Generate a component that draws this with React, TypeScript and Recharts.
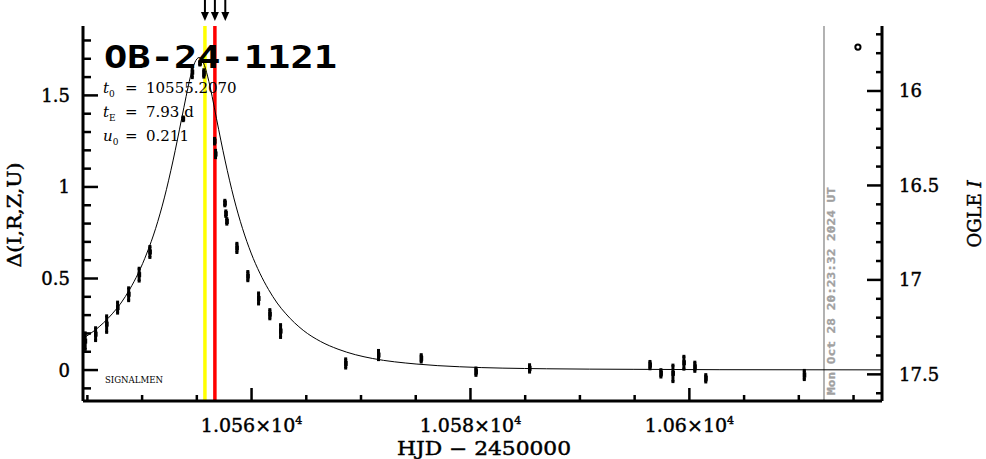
import React from "react";
import { ComposedChart, Line, Scatter, XAxis, YAxis, ReferenceLine, ErrorBar } from "recharts";

// Observations (HJD - 2450000, Δmag, error)
const obsT = [10544.8, 10545.75, 10546.76, 10547.76, 10548.77, 10549.73, 10550.71, 10553.75, 10554.58, 10555.28, 10555.64, 10556.62, 10556.71, 10557.56, 10557.65, 10557.74, 10558.66, 10559.66, 10560.64, 10561.67, 10562.65, 10568.6, 10571.6, 10575.5, 10580.5, 10585.4, 10596.4, 10597.4, 10598.5, 10599.5, 10600.5, 10601.5, 10610.5];
const obsD = [0.158, 0.196, 0.251, 0.341, 0.414, 0.521, 0.645, 1.372, 1.627, 1.676, 1.62, 1.25, 1.18, 0.912, 0.854, 0.812, 0.667, 0.513, 0.391, 0.305, 0.213, 0.036, 0.082, 0.064, -0.009, 0.009, 0.027, -0.018, -0.018, 0.04, 0.018, -0.045, -0.027];
const obsE = [0.045, 0.035, 0.045, 0.03, 0.035, 0.035, 0.03, 0.01, 0.03, 0.01, 0.02, 0.015, 0.02, 0.015, 0.015, 0.015, 0.025, 0.025, 0.03, 0.025, 0.035, 0.025, 0.025, 0.02, 0.02, 0.02, 0.02, 0.02, 0.045, 0.035, 0.025, 0.02, 0.025];

// Model curve
const modelT = [10544.6, 10545.68, 10547.27, 10548.07, 10548.86, 10549.65, 10550.44, 10551.24, 10552.03, 10552.82, 10553.62, 10554.02, 10554.41, 10554.81, 10555.21, 10555.6, 10556.0, 10556.4, 10556.79, 10557.59, 10558.38, 10559.17, 10559.96, 10560.76, 10561.55, 10562.34, 10563.14, 10564.72, 10566.31, 10567.9, 10569.48, 10571.07, 10575.03, 10579.0, 10586.93, 10594.86, 10602.79, 10617.6];
const modelD = [0.173, 0.217, 0.307, 0.366, 0.44, 0.529, 0.639, 0.774, 0.94, 1.142, 1.375, 1.494, 1.601, 1.679, 1.707, 1.679, 1.601, 1.494, 1.375, 1.142, 0.94, 0.774, 0.639, 0.529, 0.44, 0.366, 0.307, 0.217, 0.156, 0.114, 0.084, 0.063, 0.033, 0.018, 0.007, 0.004, 0.002, 0.001];

const markT = [10615.4];
const markD = [1.764];

const yellowT = 10555.74;
const redT = 10556.65;
const arrowT = [10555.74, 10556.65, 10557.6];
const nowT = 10612.3;
const nowLabel = "Mon Oct 28 20:23:32 2024 UT";

const xDomain = [10544.6, 10617.6];
const xTicks = [10545, 10550, 10555, 10560, 10565, 10570, 10575, 10580, 10585, 10590, 10595, 10600, 10605, 10610, 10615];
const xMajor = [10560, 10580, 10600];
const xLabels = ["1.056×10", "1.058×10", "1.06×10"];
const xExp = "4";

const leftDomain = [-0.169, 1.879];
const leftTicks = [-0.1, 0, 0.1, 0.2, 0.3, 0.4, 0.5, 0.6, 0.7, 0.8, 0.9, 1.0, 1.1, 1.2, 1.3, 1.4, 1.5, 1.6, 1.7, 1.8];
const leftMajor = [0, 0.5, 1, 1.5];
const leftLabels = ["0", "0.5", "1", "1.5"];

const rightDomain = [15.656, 17.641];
const rightTicks = [15.7, 15.8, 15.9, 16.0, 16.1, 16.2, 16.3, 16.4, 16.5, 16.6, 16.7, 16.8, 16.9, 17.0, 17.1, 17.2, 17.3, 17.4, 17.5, 17.6];
const rightMajor = [16, 16.5, 17, 17.5];
const rightLabels = ["16", "16.5", "17", "17.5"];

const obsData = obsT.map((t, i) => ({ t, d: obsD[i], e: obsE[i] }));
const modelData = modelT.map((t, i) => ({ t, d: modelD[i] }));
const markData = markT.map((t, i) => ({ t, d: markD[i] }));

const SERIF = "'DejaVu Serif', serif";
const TXT = { fontFamily: SERIF, fill: "#000", stroke: "#000", strokeWidth: 0.45 };
const findIdx = (arr: number[], v: number) => arr.findIndex((a) => Math.abs(a - v) < 1e-6);

const BottomTick = (p: any) => {
  const { x, y, payload } = p;
  const i = findIdx(xMajor, payload.value);
  const len = i >= 0 ? 13 : 6;
  return (
    <g>
      <line x1={x} x2={x} y1={y} y2={y - len} stroke="#000" strokeWidth={2.5} />
      {i >= 0 && (
        <text x={x} y={y + 31} textAnchor="middle" fontSize={19} {...TXT}>
          <tspan>{xLabels[i]}</tspan>
          <tspan dy={-8} fontSize={11}>{xExp}</tspan>
        </text>
      )}
    </g>
  );
};

const TopTick = (p: any) => {
  const { x, y, payload } = p;
  const i = findIdx(xMajor, payload.value);
  const len = i >= 0 ? 13 : 7;
  return <line x1={x} x2={x} y1={y} y2={y + len} stroke="#000" strokeWidth={2.5} />;
};

const LeftTick = (p: any) => {
  const { x, y, payload } = p;
  const i = findIdx(leftMajor, payload.value);
  const len = i >= 0 ? 15 : 8;
  return (
    <g>
      <line x1={x} x2={x + len} y1={y} y2={y} stroke="#000" strokeWidth={2.5} />
      {i >= 0 && (
        <text x={x - 13} y={y} dy="0.36em" textAnchor="end" fontSize={18} {...TXT}>
          {leftLabels[i]}
        </text>
      )}
    </g>
  );
};

const RightTick = (p: any) => {
  const { x, y, payload } = p;
  const i = findIdx(rightMajor, payload.value);
  const len = i >= 0 ? 15 : 6;
  return (
    <g>
      <line x1={x} x2={x - len} y1={y} y2={y} stroke="#000" strokeWidth={2.5} />
      {i >= 0 && (
        <text x={x + 17} y={y} dy="0.36em" textAnchor="start" fontSize={18} {...TXT}>
          {rightLabels[i]}
        </text>
      )}
    </g>
  );
};

const ArrowLabel = (p: any) => {
  const vb = p.viewBox || {};
  const x = vb.x;
  const top = vb.y;
  return (
    <g>
      <line x1={x} x2={x} y1={top - 26} y2={top - 12} stroke="#000" strokeWidth={2} />
      <polygon points={`${x - 4},${top - 14} ${x + 4},${top - 14} ${x},${top - 5}`} fill="#000" />
    </g>
  );
};

const NowLabel = (p: any) => {
  const vb = p.viewBox || {};
  const x = vb.x + 11;
  const y = vb.y + vb.height - 6;
  return (
    <text
      x={x}
      y={y}
      transform={`rotate(-90, ${x}, ${y})`}
      fontFamily="'DejaVu Sans Mono', monospace"
      fontWeight="bold"
      fontSize={10.5}
      fill="#a0a0a0"
      stroke="#a0a0a0"
      strokeWidth={0.3}
      textLength={208}
      lengthAdjust="spacingAndGlyphs"
    >
      {nowLabel}
    </text>
  );
};

const ObsShape = (p: any) => {
  const { cx, cy } = p;
  return <rect x={cx - 1.5} y={cy - 2.5} width={3.5} height={5} fill="#000" />;
};

const MarkShape = (p: any) => {
  const { cx, cy } = p;
  return <circle cx={cx} cy={cy} r={2.6} fill="#fff" stroke="#000" strokeWidth={2} />;
};

export default function App() {
  return (
    <div style={{ position: "absolute", left: 0, top: 0, width: 986, height: 459, background: "#fff" }}>
      <ComposedChart width={986} height={459} margin={{ top: 26, right: 0, bottom: 0, left: 0 }}>
        <XAxis
          xAxisId="bottom"
          dataKey="t"
          type="number"
          domain={xDomain}
          allowDataOverflow
          ticks={xTicks}
          interval={0}
          tick={<BottomTick />}
          tickLine={false}
          tickSize={0}
          tickMargin={0}
          height={58}
          axisLine={{ stroke: "#000", strokeWidth: 3 }}
        />
        <XAxis
          xAxisId="top"
          orientation="top"
          dataKey="t"
          type="number"
          domain={xDomain}
          allowDataOverflow
          ticks={xTicks}
          interval={0}
          tick={<TopTick />}
          tickLine={false}
          tickSize={0}
          tickMargin={0}
          height={0}
          axisLine={{ stroke: "#000", strokeWidth: 3 }}
        />
        <YAxis
          yAxisId="left"
          type="number"
          domain={leftDomain}
          allowDataOverflow
          ticks={leftTicks}
          interval={0}
          tick={<LeftTick />}
          tickLine={false}
          tickSize={0}
          tickMargin={0}
          width={83}
          axisLine={{ stroke: "#000", strokeWidth: 3 }}
        />
        <YAxis
          yAxisId="right"
          orientation="right"
          type="number"
          domain={rightDomain}
          reversed
          allowDataOverflow
          ticks={rightTicks}
          interval={0}
          tick={<RightTick />}
          tickLine={false}
          tickSize={0}
          tickMargin={0}
          width={104}
          axisLine={{ stroke: "#000", strokeWidth: 3 }}
        />
        <ReferenceLine xAxisId="bottom" yAxisId="left" x={nowT} stroke="#999999" strokeWidth={1.5} label={<NowLabel />} />
        <ReferenceLine xAxisId="bottom" yAxisId="left" x={yellowT} stroke="#ffff00" strokeWidth={3.5} />
        <ReferenceLine xAxisId="bottom" yAxisId="left" x={redT} stroke="#ff0000" strokeWidth={3.5} />
        {arrowT.map((t) => (
          <ReferenceLine key={t} xAxisId="bottom" yAxisId="left" x={t} stroke="none" label={<ArrowLabel />} />
        ))}
        <Line
          xAxisId="bottom"
          yAxisId="left"
          data={modelData}
          dataKey="d"
          type="monotone"
          stroke="#000"
          strokeWidth={1}
          dot={false}
          activeDot={false}
          isAnimationActive={false}
        />
        <Scatter xAxisId="bottom" yAxisId="left" data={obsData} dataKey="d" shape={<ObsShape />} isAnimationActive={false}>
          <ErrorBar dataKey="e" direction="y" width={1.5} stroke="#000" strokeWidth={3} />
        </Scatter>
        <Scatter xAxisId="bottom" yAxisId="left" data={markData} dataKey="d" shape={<MarkShape />} isAnimationActive={false} />
      </ComposedChart>
      <svg width={986} height={459} style={{ position: "absolute", left: 0, top: 0, pointerEvents: "none" }}>
        <text x={104} y={68} fontFamily="'DejaVu Sans Mono', monospace" fontWeight="bold" fontSize={32} fill="#000" textLength={233} lengthAdjust="spacingAndGlyphs">
          OB-24-1121
        </text>
        <g fontFamily={SERIF} fontSize={15} fill="#000">
          <text x={103} y={93}><tspan fontStyle="italic">t</tspan><tspan fontSize={9} dy={4}>0</tspan></text>
          <text x={125} y={93}>=</text>
          <text x={146} y={93}>10555.2070</text>
          <text x={103} y={117}><tspan fontStyle="italic">t</tspan><tspan fontSize={9} dy={4}>E</tspan></text>
          <text x={125} y={117}>=</text>
          <text x={146} y={117}>7.93 d</text>
          <text x={103} y={141}><tspan fontStyle="italic">u</tspan><tspan fontSize={9} dy={4}>0</tspan></text>
          <text x={125} y={141}>=</text>
          <text x={146} y={141}>0.211</text>
        </g>
        <text x={105} y={383} fontFamily={SERIF} fontSize={9} fill="#000" textLength={58} lengthAdjust="spacingAndGlyphs">SIGNALMEN</text>
        <text x={21} y={215} transform="rotate(-90, 21, 215)" textAnchor="middle" fontSize={18} {...TXT} textLength={105} lengthAdjust="spacingAndGlyphs">Δ(I,R,Z,U)</text>
        <text x={981} y={214} transform="rotate(-90, 981, 214)" textAnchor="middle" fontSize={18} {...TXT}>OGLE <tspan fontStyle="italic">I</tspan></text>
        <text x={484} y={455} textAnchor="middle" fontSize={19} {...TXT} textLength={174} lengthAdjust="spacingAndGlyphs">HJD − 2450000</text>
      </svg>
    </div>
  );
}
